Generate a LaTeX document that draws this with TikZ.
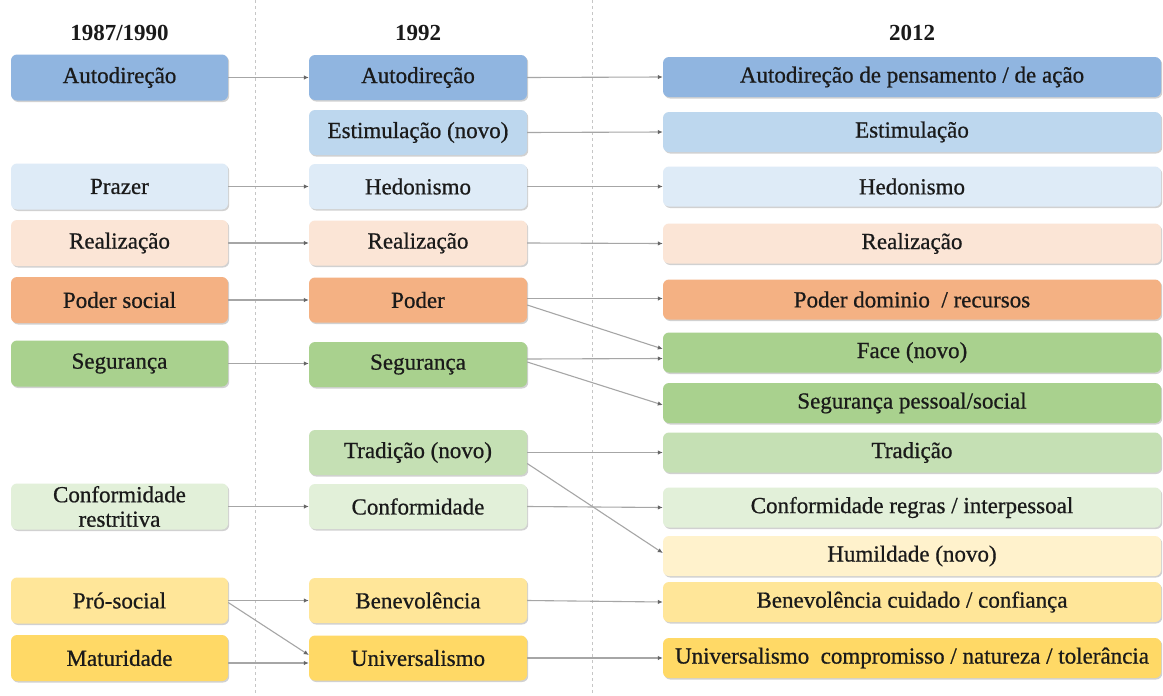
\documentclass[tikz,border=0pt]{standalone}
\usepackage{fontspec}
\setmainfont{Liberation Serif}
\newfontfamily\tms{Liberation Serif}[UprightFeatures={FakeBold=0.7}]
\usetikzlibrary{arrows.meta,shadows}
\definecolor{blueA}{HTML}{90B5E0}
\definecolor{blueB}{HTML}{BDD7EE}
\definecolor{blueC}{HTML}{DEEBF7}
\definecolor{peach}{HTML}{FBE5D6}
\definecolor{orng}{HTML}{F4B183}
\definecolor{grnA}{HTML}{A9D18E}
\definecolor{grnB}{HTML}{C5E0B4}
\definecolor{grnC}{HTML}{E2F0D9}
\definecolor{yelC}{HTML}{FFF2CC}
\definecolor{yelB}{HTML}{FFE699}
\definecolor{yelA}{HTML}{FFD966}
\definecolor{txt}{HTML}{1A1A1A}
\definecolor{lin}{HTML}{A6A6A6}
\begin{document}
\begin{tikzpicture}[x=1pt,y=-1pt,
  box/.style={rounded corners=6pt, draw=none, inner sep=0pt, align=center,
    text=txt, font=\tms\fontsize{23}{24.5}\selectfont,
    drop shadow={shadow xshift=1.2pt, shadow yshift=-1.5pt, opacity=0.18, fill=black}},
  cola/.style={box, minimum width=217pt, minimum height=46pt},
  colb/.style={box, minimum width=218pt, minimum height=45pt},
  colc/.style={box, minimum width=498pt, minimum height=40pt},
  hdr/.style={font=\tms\fontsize{23}{24}\selectfont\bfseries, text=txt},
  conn/.style={draw=lin, line width=1.1pt, -{Latex[length=5pt,width=4.5pt,color=gray!80!black]}},
  sep/.style={draw=gray!45, line width=0.8pt, dash pattern=on 3pt off 3pt}]
\useasboundingbox (0,0) rectangle (1163,696);
\fill[white] (0,0) rectangle (1163,696);

% separators
\coordinate (s1t) at (255,0); \coordinate (s1b) at (255,696);
\coordinate (s2t) at (592,0); \coordinate (s2b) at (592,696);
\draw[sep] (s1t) -- (s1b);
\draw[sep] (s2t) -- (s2b);

% headers
\node[hdr] (h1) at (119.5,33) {1987/1990};
\node[hdr] (h2) at (418,33) {1992};
\node[hdr] (h3) at (912,33) {2012};

% column 1
\node[cola, fill=blueA] (a1) at (119.5,77.5) {Autodireção};
\node[cola, fill=blueC] (a2) at (119.5,186.5) {Prazer};
\node[cola, fill=peach] (a3) at (119.5,243) {Realização};
\node[cola, fill=orng] (a4) at (119.5,300) {Poder social};
\node[cola, fill=grnA] (a5) at (119.5,363.5) {Segurança};
\node[cola, fill=grnC] (a6) at (119.5,506.5) {Conformidade\\restritiva};
\node[cola, fill=yelB] (a7) at (119.5,600.5) {Pró-social};
\node[cola, fill=yelA] (a8) at (119.5,658) {Maturidade};

% column 2
\node[colb, fill=blueA] (b1) at (418,77.5) {Autodireção};
\node[colb, fill=blueB] (b2) at (418,132.5) {Estimulação (novo)};
\node[colb, fill=blueC] (b3) at (418,186.5) {Hedonismo};
\node[colb, fill=peach] (b4) at (418,243) {Realização};
\node[colb, fill=orng] (b5) at (418,300) {Poder};
\node[colb, fill=grnA] (b6) at (418,364.5) {Segurança};
\node[colb, fill=grnB] (b7) at (418,452.5) {Tradição (novo)};
\node[colb, fill=grnC] (b8) at (418,506.5) {Conformidade};
\node[colb, fill=yelB] (b9) at (418,600.5) {Benevolência};
\node[colb, fill=yelA] (b10) at (418,658) {Universalismo};

% column 3
\node[colc, fill=blueA] (c1) at (912,77) {Autodireção de pensamento / de ação};
\node[colc, fill=blueB] (c2) at (912,132) {Estimulação};
\node[colc, fill=blueC] (c3) at (912,186.5) {Hedonismo};
\node[colc, fill=peach] (c4) at (912,243.5) {Realização};
\node[colc, fill=orng] (c5) at (912,299.5) {Poder dominio~~/ recursos};
\node[colc, fill=grnA] (c6) at (912,352.5) {Face (novo)};
\node[colc, fill=grnA] (c7) at (912,403) {Segurança pessoal/social};
\node[colc, fill=grnB] (c8) at (912,452.5) {Tradição};
\node[colc, fill=grnC] (c9) at (912,507.5) {Conformidade regras / interpessoal};
\node[colc, fill=yelC] (c10) at (912,556) {Humildade (novo)};
\node[colc, fill=yelB] (c11) at (912,602) {Benevolência cuidado / confiança};
\node[colc, fill=yelA] (c12) at (912,658) {Universalismo~~compromisso / natureza / tolerância};

% connectors col1 -> col2
\draw[conn] (a1.east) -- (b1.west);
\draw[conn] (a2.east) -- (b3.west);
\draw[conn] (a3.east) -- (b4.west);
\draw[conn] (a4.east) -- (b5.west);
\draw[conn] (a5.east) -- (b6.west |- a5.east);
\draw[conn] (a6.east) -- (b8.west);
\draw[conn] (a7.east) -- (b9.west);
\draw[conn] ([yshift=-2pt]a7.east) -- ([yshift=3pt]b10.west);
\draw[conn] ([yshift=-5pt]a8.east) -- ([yshift=-5pt]b10.west);

% connectors col2 -> col3
\draw[conn] (b1.east) -- (c1.west);
\draw[conn] (b2.east) -- (c2.west);
\draw[conn] (b3.east) -- (c3.west);
\draw[conn] (b4.east) -- (c4.west);
\draw[conn] ([yshift=1.5pt]b5.east) -- ([yshift=1pt]c5.west);
\draw[conn] ([yshift=-5pt]b5.east) -- ([yshift=3.5pt]c6.west);
\draw[conn] ([yshift=5.5pt]b6.east) -- ([yshift=-6pt]c6.west);
\draw[conn] ([yshift=2.5pt]b6.east) -- ([yshift=-2pt]c7.west);
\draw[conn] (b7.east) -- (c8.west);
\draw[conn] ([yshift=-11pt]b7.east) -- ([yshift=3pt]c10.west);
\draw[conn] (b8.east) -- (c9.west);
\draw[conn] (b9.east) -- (c11.west);
\draw[conn] (b10.east) -- (c12.west);
\end{tikzpicture}
\end{document}
